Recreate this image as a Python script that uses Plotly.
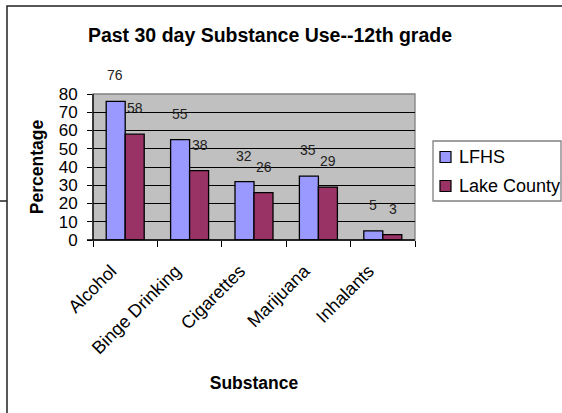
import plotly.graph_objects as go

categories = ["Alcohol", "Binge Drinking", "Cigarettes", "Marijuana", "Inhalants"]
lfhs = [76, 55, 32, 35, 5]
lake_county = [58, 38, 26, 29, 3]
series_names = ["LFHS", "Lake County"]
y_ticks = [0, 10, 20, 30, 40, 50, 60, 70, 80]

W, H = 562, 413
L, R, T, B = 93, 415, 94, 240  # plot area in px

def px_x(px):
    return (px - L) / (R - L)

def px_y(py):
    return (B - py) / (B - T)

FONT = "Liberation Sans, Arial, sans-serif"
NARROW = "Liberation Sans Narrow, Arial Narrow, Liberation Sans, sans-serif"

fig = go.Figure()
colors = ["#9999FF", "#993366"]
for name, vals, col in zip(series_names, [lfhs, lake_county], colors):
    fig.add_trace(go.Bar(
        x=categories, y=vals, name=name,
        marker=dict(color=col, line=dict(color="black", width=1.3)),
    ))

# data labels
for vals, shift in zip([lfhs, lake_county], [-10, 10]):
    for c, v in zip(categories, vals):
        fig.add_annotation(
            x=c, y=v, text=str(v), showarrow=False,
            xshift=shift, yshift=16, yanchor="bottom",
            font=dict(family=NARROW, size=14, color="#222222"),
        )

shapes = [
    # outer chart border
    dict(type="rect", xref="paper", yref="paper",
         x0=px_x(7), x1=px_x(600), y0=px_y(6), y1=px_y(700),
         line=dict(color="#222222", width=1.5), fillcolor="rgba(0,0,0,0)", layer="below"),
    # small stray dash at left
    dict(type="line", xref="paper", yref="paper",
         x0=px_x(0), x1=px_x(7), y0=px_y(201), y1=px_y(201),
         line=dict(color="#222222", width=1.5)),
    # plot-area gray border
    dict(type="rect", xref="paper", yref="paper",
         x0=0, x1=1, y0=0, y1=1,
         line=dict(color="#808080", width=1.3), fillcolor="rgba(0,0,0,0)", layer="below"),
    # y axis line
    dict(type="line", xref="paper", yref="paper", x0=0, x1=0, y0=0, y1=1,
         line=dict(color="black", width=1.3)),
    # x axis line extending slightly left
    dict(type="line", xref="paper", yref="paper", x0=px_x(87), x1=1, y0=0, y1=0,
         line=dict(color="black", width=1.3)),
    # legend box
    dict(type="rect", xref="paper", yref="paper",
         x0=px_x(433), x1=px_x(561), y0=px_y(141), y1=px_y(201),
         line=dict(color="#808080", width=1.3), fillcolor="white"),
]

# legend entries (custom, to match spacing)
leg_y = [157, 186]
for name, col, yy in zip(series_names, colors, leg_y):
    shapes.append(dict(type="rect", xref="paper", yref="paper",
                       x0=px_x(440), x1=px_x(451), y0=px_y(yy - 5.5), y1=px_y(yy + 5.5),
                       line=dict(color="black", width=1.2), fillcolor=col))
    fig.add_annotation(xref="paper", yref="paper", x=px_x(457), y=px_y(yy),
                       text=name, showarrow=False, xanchor="left", yanchor="middle",
                       font=dict(family=FONT, size=18, color="black"))

fig.update_layout(
    width=W, height=H,
    margin=dict(l=L, r=W - R, t=T, b=H - B, pad=0),
    paper_bgcolor="white", plot_bgcolor="#C0C0C0",
    barmode="group", bargap=0.41, bargroupgap=0,
    font=dict(family=FONT, color="black"),
    title=dict(text="<b>Past 30 day Substance Use--12th grade</b>",
               x=270 / W, xanchor="center",
               y=1 - 35 / H, yanchor="middle",
               font=dict(size=19.5, family=FONT, color="black")),
    showlegend=False,
    hovermode=False,
    shapes=shapes,
)

fig.update_xaxes(
    tickangle=-45, tickfont=dict(size=18, family=FONT),
    ticks="outside", tickson="boundaries", ticklen=6, tickcolor="black",
    ticklabelstandoff=16, ticklabelshift=-14,
    showline=False, showgrid=False,
    title=dict(text="<b>Substance</b>", font=dict(size=17.5), standoff=19),
)
fig.update_yaxes(
    range=[0, 80], tickvals=y_ticks, ticks="outside", ticklen=5, tickcolor="black",
    tickfont=dict(size=17, family=FONT), ticklabelstandoff=6,
    showgrid=True, gridcolor="black", gridwidth=1, zeroline=False, showline=False,
    title=dict(text="<b>Percentage</b>", font=dict(size=17.5), standoff=10),
)

fig.write_html("out.html", config={"displayModeBar": False},
               post_script="document.body.style.margin='0';")
